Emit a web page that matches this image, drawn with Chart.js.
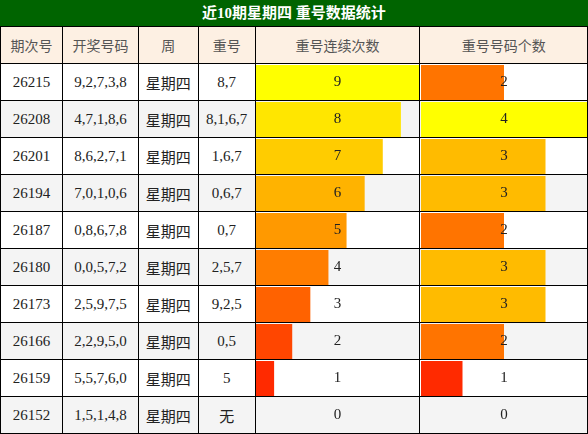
<!DOCTYPE html>
<html><head><meta charset="utf-8">
<script src="https://cdn.jsdelivr.net/npm/chart.js@4"></script>
<style>
body{margin:0;background:#fff;font-family:"Liberation Serif","Noto Sans CJK SC",serif;}
#wrap{position:relative;width:588px;height:434px;overflow:hidden;}
#title{position:absolute;left:0;top:0;width:588px;height:26px;background:#006400;color:#fff;font:bold 15px "Liberation Serif","Noto Sans CJK SC";text-align:center;line-height:26px;border-bottom:1px solid #000;}
table{position:absolute;left:0;top:26px;border-collapse:collapse;table-layout:fixed;}
td,th{border:1px solid #000;height:36px;padding:0;text-align:center;font-size:15px;color:#222;font-weight:normal;}
th{background:#fdf0e3;color:#555;font-family:"Noto Sans CJK SC";font-size:14px;}
tr:nth-child(even) td{background:#f4f4f4;}
td.cn{font-family:"Noto Sans CJK SC";}
canvas{position:absolute;}
.cv{position:absolute;top:64px;height:370px;}
</style></head>
<body><div id="wrap">
<div id="title">近10期星期四 重号数据统计</div>
<table id="tbl">
<colgroup><col style="width:62px"><col style="width:76px"><col style="width:60px"><col style="width:57px"><col style="width:165px"><col style="width:168px"></colgroup>
<tr><th>期次号</th><th>开奖号码</th><th>周</th><th>重号</th><th>重号连续次数</th><th>重号号码个数</th></tr>
</table>
<div class="cv" style="left:256px;width:163px"><canvas id="c1"></canvas></div>
<div class="cv" style="left:421px;width:166px"><canvas id="c2"></canvas></div>
</div>
<script>
const periods = ["26215","26208","26201","26194","26187","26180","26173","26166","26159","26152"];
const draws = ["9,2,7,3,8","4,7,1,8,6","8,6,2,7,1","7,0,1,0,6","0,8,6,7,8","0,0,5,7,2","2,5,9,7,5","2,2,9,5,0","5,5,7,6,0","1,5,1,4,8"];
const weekdays = ["星期四","星期四","星期四","星期四","星期四","星期四","星期四","星期四","星期四","星期四"];
const repeats = ["8,7","8,1,6,7","1,6,7","0,6,7","0,7","2,5,7","9,2,5","0,5","5","无"];
const streak = [9,8,7,6,5,4,3,2,1,0];
const repeatCount = [2,4,3,3,2,3,3,2,1,0];

const tbl = document.getElementById('tbl');
periods.forEach((p, i) => {
  const tr = document.createElement('tr');
  tr.innerHTML = `<td>${p}</td><td>${draws[i]}</td><td class="cn">${weekdays[i]}</td><td class="${repeats[i]==='无'?'cn':''}">${repeats[i]}</td><td></td><td></td>`;
  tbl.appendChild(tr);
});

function colorFor(v, max) {
  if (v <= 0) return 'rgba(0,0,0,0)';
  const t = max > 1 ? (v - 1) / (max - 1) : 1;
  const g = t < 0.5 ? 42 + (153 - 42) * t / 0.5 : 153 + (255 - 153) * (t - 0.5) / 0.5;
  return `rgb(255,${Math.round(g)},0)`;
}

const labelPlugin = {
  id: 'cellLabels',
  afterDatasetsDraw(chart) {
    const ctx = chart.ctx, area = chart.chartArea;
    const cx = (area.left + area.right) / 2;
    ctx.save();
    ctx.font = '15px "Liberation Serif"';
    ctx.fillStyle = '#222';
    ctx.textAlign = 'center';
    ctx.textBaseline = 'middle';
    chart.getDatasetMeta(0).data.forEach((bar, i) => {
      ctx.fillText(chart.data.datasets[0].data[i], cx, bar.y);
    });
    ctx.restore();
  }
};

function makeChart(id, values, max) {
  new Chart(document.getElementById(id), {
    type: 'bar',
    data: {
      labels: periods,
      datasets: [{
        data: values,
        backgroundColor: values.map(v => colorFor(v, max)),
        barPercentage: 1,
        categoryPercentage: 35 / 37
      }]
    },
    options: {
      indexAxis: 'y',
      responsive: true,
      maintainAspectRatio: false,
      animation: false,
      layout: { padding: 0 },
      plugins: { legend: { display: false }, tooltip: { enabled: false } },
      scales: {
        x: { display: false, min: 0, max: max },
        y: { display: false }
      }
    },
    plugins: [labelPlugin]
  });
}

makeChart('c1', streak, 9);
makeChart('c2', repeatCount, 4);
</script>
</body></html>
